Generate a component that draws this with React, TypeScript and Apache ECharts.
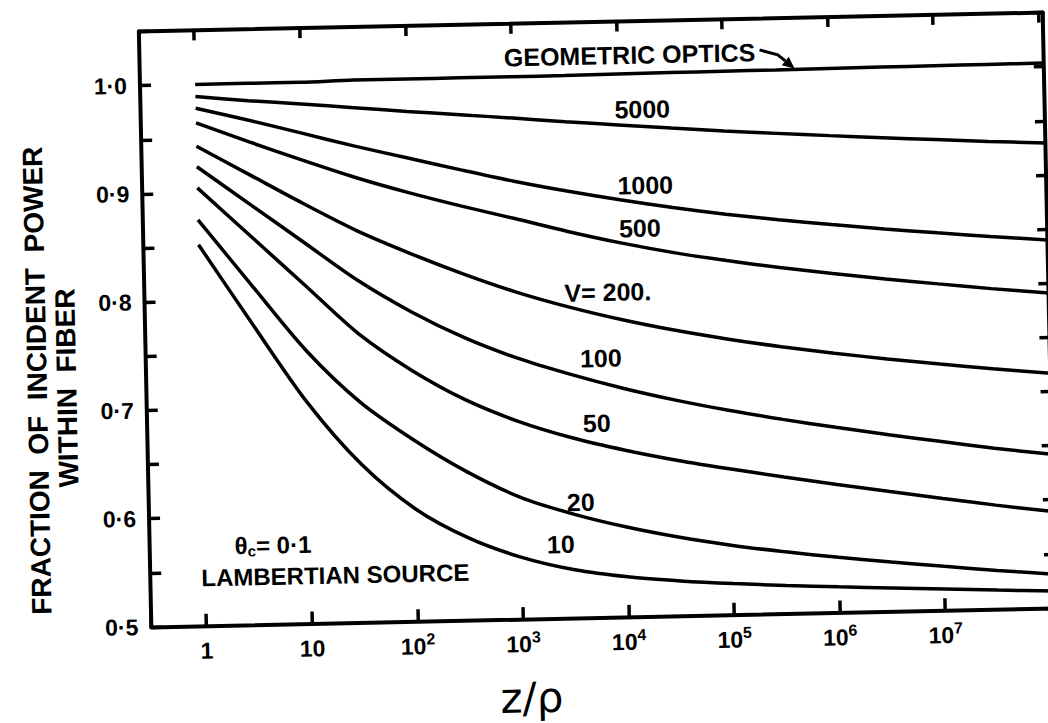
import { useEffect, useRef } from "react";
import * as echarts from "echarts";

// z/rho sample positions (half-decade steps on the log axis) where the curves were read
const zGrid = [1, 3.16, 10, 31.6, 100, 316, 1000, 3160, 1e4, 31600, 1e5, 316000, 1e6, 3.16e6, 1e7, 3.16e7, 1.1e8];

// fraction of incident power within fiber, one array per V
const geometricOptics = [1.0, 1.0, 1.0, 1.001, 1.001, 1.001, 1.001, 1.0012, 1.0015, 1.0018, 1.002, 1.0022, 1.0025, 1.0028, 1.003, 1.0032, 1.0034];
const v5000 = [0.989, 0.984, 0.98, 0.9755, 0.971, 0.967, 0.9628, 0.9585, 0.9544, 0.9505, 0.9469, 0.9436, 0.9405, 0.9376, 0.9348, 0.9321, 0.9295];
const v1000 = [0.978, 0.966, 0.953, 0.94, 0.928, 0.916, 0.9045, 0.8944, 0.8853, 0.8772, 0.87, 0.8638, 0.8583, 0.8533, 0.8487, 0.8443, 0.84];
const v500 = [0.9645, 0.946, 0.928, 0.911, 0.896, 0.8825, 0.87, 0.8571, 0.8455, 0.8355, 0.8271, 0.8197, 0.8131, 0.8071, 0.8015, 0.7961, 0.7909];
const v200 = [0.943, 0.9155, 0.888, 0.862, 0.84, 0.82, 0.8021, 0.7872, 0.7745, 0.7637, 0.7545, 0.7465, 0.7395, 0.7332, 0.7274, 0.722, 0.7169];
const v100 = [0.924, 0.888, 0.852, 0.816, 0.786, 0.761, 0.741, 0.725, 0.711, 0.699, 0.6886, 0.6794, 0.671, 0.6632, 0.6558, 0.6487, 0.6419];
const v50 = [0.9045, 0.8585, 0.8125, 0.7665, 0.7315, 0.7035, 0.6825, 0.6665, 0.654, 0.6435, 0.6345, 0.6262, 0.6183, 0.6107, 0.6033, 0.5961, 0.589];
const v20 = [0.875, 0.813, 0.752, 0.7035, 0.6675, 0.637, 0.6125, 0.596, 0.583, 0.5725, 0.564, 0.557, 0.551, 0.5456, 0.5406, 0.5358, 0.5312];
const v10 = [0.852, 0.777, 0.704, 0.646, 0.604, 0.576, 0.557, 0.5445, 0.537, 0.5322, 0.5287, 0.526, 0.5237, 0.5216, 0.5196, 0.5176, 0.5156];

const seriesNames = ["GEOMETRIC OPTICS", "5000", "1000", "500", "200", "100", "50", "20", "10"];
const seriesValues = [geometricOptics, v5000, v1000, v500, v200, v100, v50, v20, v10];

// axis extents and ticks
const X_MIN = 0.3;
const X_MAX = 1.1e8;
const Y_MIN = 0.5;
const Y_MAX = 1.05;
const Y_STEP = 0.05;
const xTickExponents = [0, 1, 2, 3, 4, 5, 6, 7];

// curve labels, anchored in data coordinates (z, fraction)
const curveLabelTexts = ["GEOMETRIC OPTICS", "5000", "1000", "500", "V= 200.", "100", "50", "20", "10"];
const curveLabelZ = [13180, 16980, 17500, 15240, 7360, 6140, 5460, 3715, 2355];
const curveLabelV = [1.019, 0.9687, 0.8985, 0.8589, 0.8004, 0.7396, 0.6796, 0.607, 0.5685];

// arrow from "GEOMETRIC OPTICS" to its line
const arrowZ = [225000, 334000, 479000];
const arrowV = [1.021, 1.0161, 1.0032];

const FONT = '"Liberation Sans", Arial, sans-serif';

export default function App() {
  const ref = useRef<HTMLDivElement>(null);

  useEffect(() => {
    const html = document.documentElement;
    const body = document.body;
    const prevHtml = html.style.overflow;
    const prevBody = body.style.overflow;
    html.style.overflow = "hidden";
    body.style.overflow = "hidden";

    const chart = echarts.init(ref.current as HTMLDivElement, undefined, { renderer: "svg" });

    const isPow10 = (v: number) => {
      const e = Math.log10(v);
      return Math.abs(e - Math.round(e)) < 1e-6 && xTickExponents.indexOf(Math.round(e)) >= 0;
    };

    const axisLineStyle = { color: "#000", width: 4 };
    const tickStyle = { color: "#000", width: 3.5 };

    chart.setOption({
      animation: false,
      backgroundColor: "#fff",
      grid: { left: 145, top: 22, width: 904, height: 595.5, containLabel: false },
      xAxis: [
        {
          type: "log",
          logBase: 10,
          min: X_MIN,
          max: X_MAX,
          position: "bottom",
          axisLine: { show: true, onZero: false, lineStyle: axisLineStyle },
          axisTick: { show: true, inside: true, length: 12, lineStyle: tickStyle },
          minorTick: { show: false },
          splitLine: { show: false },
          axisLabel: {
            show: true,
            margin: 10,
            formatter: (v: number) => {
              if (!isPow10(v)) return "";
              const e = Math.round(Math.log10(v));
              if (e === 0) return "{b|1}";
              if (e === 1) return "{b|10}";
              return "{b|10}{s|" + e + "}";
            },
            rich: {
              b: { fontFamily: FONT, fontWeight: "bold", fontSize: 23, lineHeight: 30, color: "#000" },
              s: { fontFamily: FONT, fontWeight: "bold", fontSize: 16, lineHeight: 16, verticalAlign: "top", color: "#000" },
            },
          },
        },
        {
          type: "log",
          logBase: 10,
          min: X_MIN,
          max: X_MAX,
          position: "top",
          axisLine: { show: true, onZero: false, lineStyle: axisLineStyle },
          axisTick: { show: true, inside: true, length: 10, lineStyle: tickStyle },
          minorTick: { show: false },
          splitLine: { show: false },
          axisLabel: { show: false },
        },
      ],
      yAxis: [
        {
          type: "value",
          min: Y_MIN,
          max: Y_MAX,
          interval: Y_STEP,
          position: "left",
          axisLine: { show: true, onZero: false, lineStyle: axisLineStyle },
          axisTick: { show: true, inside: true, length: 11, lineStyle: tickStyle },
          splitLine: { show: false },
          axisLabel: {
            show: true,
            margin: 13,
            padding: [10, 0, 0, 0],
            fontFamily: FONT,
            fontWeight: "bold",
            fontSize: 23,
            color: "#000",
            formatter: (v: number) => {
              const t = Math.round(v * 10);
              if (Math.abs(v * 10 - t) > 1e-6 || t > 10) return "";
              return (t / 10).toFixed(1).replace(".", "·");
            },
          },
        },
        {
          type: "value",
          min: Y_MIN,
          max: Y_MAX,
          interval: Y_STEP,
          position: "right",
          axisLine: { show: true, onZero: false, lineStyle: axisLineStyle },
          axisTick: { show: true, inside: true, length: 10, lineStyle: tickStyle },
          splitLine: { show: false },
          axisLabel: { show: false },
        },
      ],
      series: seriesValues.map((vals, i) => ({
        name: seriesNames[i],
        type: "line",
        xAxisIndex: 0,
        yAxisIndex: 0,
        data: zGrid.map((z, k) => [z, vals[k]]),
        showSymbol: false,
        symbol: "none",
        smooth: 0.3,
        silent: true,
        lineStyle: { color: "#000", width: 3.5 },
      })),
    });

    const toPx = (z: number, v: number) =>
      chart.convertToPixel({ xAxisIndex: 0, yAxisIndex: 0 }, [z, v]) as number[];

    const elements: any[] = [];

    curveLabelTexts.forEach((t, i) => {
      const p = toPx(curveLabelZ[i], curveLabelV[i]);
      elements.push({
        type: "text",
        x: p[0],
        y: p[1],
        silent: true,
        style: {
          text: t,
          fill: "#000",
          font: `bold 25px ${FONT}`,
          textAlign: "center",
          textVerticalAlign: "middle",
        },
      });
    });

    // arrow
    const a0 = toPx(arrowZ[0], arrowV[0]);
    const a1 = toPx(arrowZ[1], arrowV[1]);
    const tip = toPx(arrowZ[2], arrowV[2]);
    const dx = tip[0] - a1[0];
    const dy = tip[1] - a1[1];
    const len = Math.hypot(dx, dy) || 1;
    const ux = dx / len;
    const uy = dy / len;
    const bx = tip[0] - ux * 12;
    const by = tip[1] - uy * 12;
    elements.push({
      type: "polyline",
      silent: true,
      shape: { points: [a0, a1, [bx, by]] },
      style: { stroke: "#000", lineWidth: 3, fill: null },
    });
    elements.push({
      type: "polygon",
      silent: true,
      shape: {
        points: [tip, [bx - uy * 5.5, by + ux * 5.5], [bx + uy * 5.5, by - ux * 5.5]],
      },
      style: { fill: "#000" },
    });

    // source annotation
    const pTheta = toPx(4.42, 0.5732);
    elements.push({
      type: "text",
      x: pTheta[0],
      y: pTheta[1],
      silent: true,
      style: {
        text: "{a|θ}{s|c}{a|= 0·1}",
        fill: "#000",
        textAlign: "center",
        textVerticalAlign: "middle",
        rich: {
          a: { fontFamily: FONT, fontWeight: "bold", fontSize: 24, lineHeight: 26, fill: "#000" },
          s: { fontFamily: FONT, fontWeight: "bold", fontSize: 15, lineHeight: 14, verticalAlign: "bottom", fill: "#000" },
        },
      },
    });
    const pLamb = toPx(17.0, 0.5443);
    elements.push({
      type: "text",
      x: pLamb[0],
      y: pLamb[1],
      silent: true,
      style: {
        text: "LAMBERTIAN SOURCE",
        fill: "#000",
        font: `bold 24px ${FONT}`,
        textAlign: "center",
        textVerticalAlign: "middle",
      },
    });

    // axis titles
    const pBottom = toPx(1167, Y_MIN);
    elements.push({
      type: "text",
      x: pBottom[0],
      y: pBottom[1] + 79,
      silent: true,
      style: {
        text: "z/ρ",
        fill: "#000",
        font: `42px "DejaVu Sans", sans-serif`,
        textAlign: "center",
        textVerticalAlign: "middle",
      },
    });
    const pLeft = toPx(X_MIN, 0.7295);
    elements.push({
      type: "text",
      x: pLeft[0] - 109,
      y: pLeft[1],
      rotation: Math.PI / 2,
      silent: true,
      style: {
        text: "FRACTION  OF  INCIDENT  POWER",
        fill: "#000",
        font: `bold 28px ${FONT}`,
        textAlign: "center",
        textVerticalAlign: "middle",
      },
    });
    const pLeft2 = toPx(X_MIN, 0.7222);
    elements.push({
      type: "text",
      x: pLeft2[0] - 79.5,
      y: pLeft2[1],
      rotation: Math.PI / 2,
      silent: true,
      style: {
        text: "WITHIN  FIBER",
        fill: "#000",
        font: `bold 28px ${FONT}`,
        textAlign: "center",
        textVerticalAlign: "middle",
      },
    });

    chart.setOption({ graphic: { elements } });

    return () => {
      chart.dispose();
      html.style.overflow = prevHtml;
      body.style.overflow = prevBody;
    };
  }, []);

  return (
    <div
      ref={ref}
      style={{
        position: "absolute",
        left: 0,
        top: 0,
        width: 1100,
        height: 760,
        transform: "rotate(-1.2deg)",
        transformOrigin: "596px 320px",
      }}
    />
  );
}
